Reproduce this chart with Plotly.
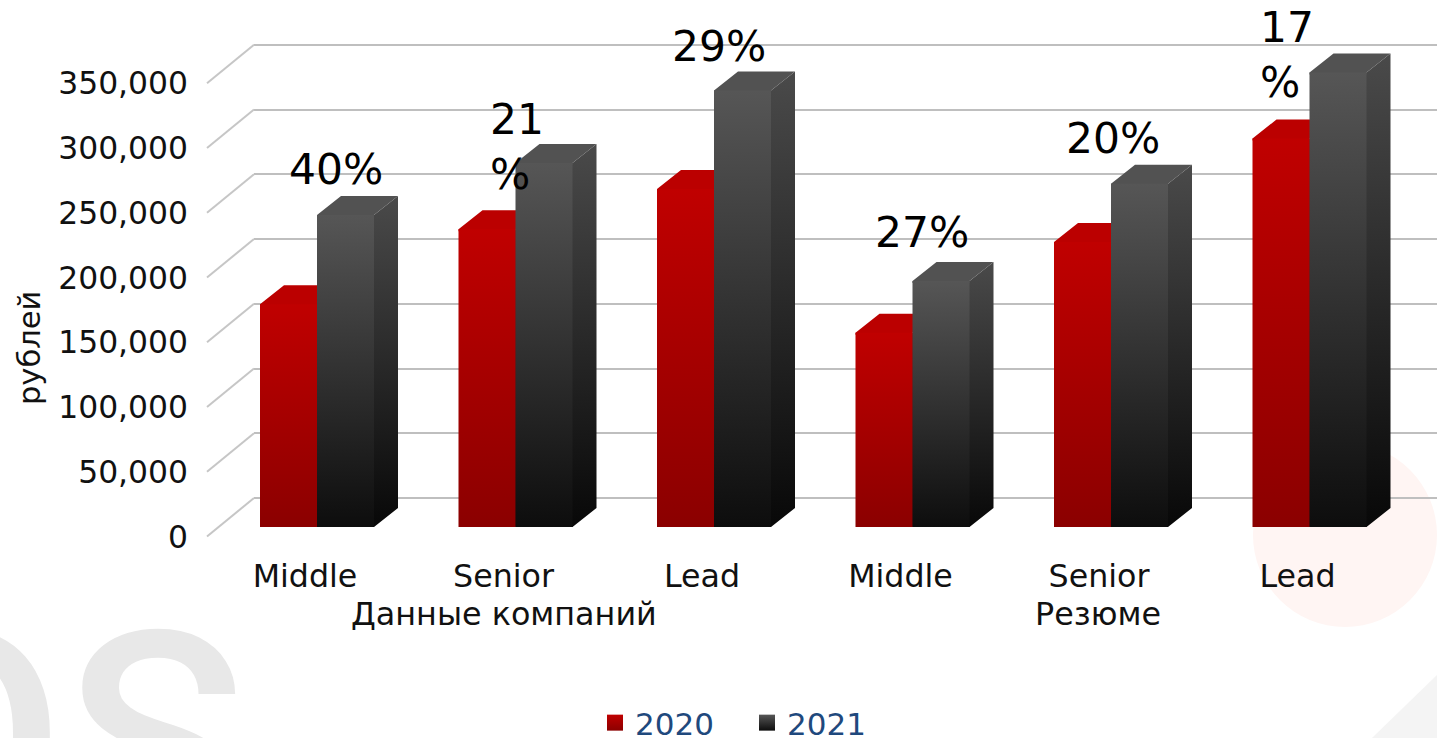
import plotly.graph_objects as go

# values in rubles
categories = ['Middle', 'Senior', 'Lead', 'Middle', 'Senior', 'Lead']
groups = ['Данные компаний', 'Резюме']
values_2020 = [172000, 230000, 261000, 150000, 220000, 300000]
values_2021 = [241000, 281000, 337000, 190000, 265000, 351000]
growth_labels = ['40%', '21<br>%', '29%', '27%', '20%', '17<br>%']
y_ticks = [0, 50000, 100000, 150000, 200000, 250000, 300000, 350000]

# page geometry of the fake 3D box (pixels)
W, H = 1437, 738
AXIS_BOTTOM = 540
PX_PER_RUB = 1.295 / 1000
SLOT = 198.5
FIRST_GROUP_X = 317
BAR_W = 57 / SLOT
BAR_DX = 24 / SLOT
BAR_DY = 19 / PX_PER_RUB
WALL_LEFT, FRONT_LEFT = 254, 207
BASE_PY, FRONT_PY, WALL_PY = 527, 536.5, 498

# label nudges relative to the top of the 2021 bar
label_dx = [-10, -27.5, -24, -19.5, -27, -51.5]
label_dy = [45, 16, 44, 48, 45, 17]


def y_range(zero_py):
    return [(zero_py - AXIS_BOTTOM) / PX_PER_RUB, zero_py / PX_PER_RUB]


def face(xs, ys, low, high):
    return go.Scatter(
        x=xs, y=ys, xaxis='x2', yaxis='y2',
        mode='none', fill='toself',
        fillgradient=dict(type='vertical', colorscale=[[0, low], [1, high]]),
        showlegend=False, hoverinfo='skip',
    )


def add_bar(fig, x0, value, colors):
    x1 = x0 + BAR_W
    dx, dy = BAR_DX, BAR_DY
    # side and top run a little under the front face so no seam shows
    tuck_x, tuck_y = 2 / SLOT, 2 / PX_PER_RUB
    fig.add_trace(face([x1 - tuck_x, x1, x1 + dx, x1 + dx, x1, x1 - tuck_x], [0, 0, dy, value + dy, value, value],
                       colors['side'][0], colors['side'][1]))
    fig.add_trace(face([x0, x0 + dx, x1 + dx, x1, x1, x0], [value, value + dy, value + dy, value, value - tuck_y, value - tuck_y],
                       colors['top'], colors['top']))
    fig.add_trace(face([x0, x1, x1, x0], [0, 0, value, value], colors['front'][0], colors['front'][1]))


RED = dict(front=('#8b0000', '#c00000'), side=('#700000', '#a80000'), top='#bb0000')
GREY = dict(front=('#0d0d0d', '#565656'), side=('#080808', '#4a4a4a'), top='#525252')

fig = go.Figure()

# back wall, only there to carry the gridlines
fig.add_trace(go.Scatter(x=[0, 1], y=[0, 350000], mode='none', showlegend=False, hoverinfo='skip'))

# slanted side wall lines
wall_dx = (WALL_LEFT - FRONT_LEFT) / SLOT
wall_dy = (FRONT_PY - WALL_PY) / PX_PER_RUB
left_x = (FRONT_LEFT - FIRST_GROUP_X) / SLOT
side_x, side_y = [], []
for t in y_ticks:
    side_x += [left_x, left_x + wall_dx, None]
    side_y += [t, t + wall_dy, None]
fig.add_trace(go.Scatter(
    x=side_x, y=side_y, xaxis='x2', yaxis='y3', mode='lines',
    line=dict(color='#c6c6c6', width=2), showlegend=False, hoverinfo='skip',
))

for i in range(len(categories)):
    add_bar(fig, i - BAR_W, values_2020[i], RED)
    add_bar(fig, i, values_2021[i], GREY)

# legend entries
for name, low, high in [('2020', '#8b0000', '#c00000'), ('2021', '#0d0d0d', '#565656')]:
    fig.add_trace(go.Scatter(
        x=[None], y=[None], xaxis='x2', yaxis='y2', mode='markers', name=name,
        marker=dict(symbol='square', size=20, color=high,
                    gradient=dict(type='vertical', color=low)),
    ))

for i, text in enumerate(growth_labels):
    fig.add_annotation(
        x=i + BAR_W / 2, y=values_2021[i], xref='x2', yref='y2',
        text=text, showarrow=False, align='left',
        xshift=label_dx[i], yshift=label_dy[i],
        font=dict(size=42.4, color='#000000'),
    )

# group captions under the categories
for text, px in zip(groups, [504, 1098]):
    fig.add_annotation(
        x=px / W, y=(H - 613) / H, xref='paper', yref='paper', xanchor='center', yanchor='middle',
        text=text, showarrow=False, font=dict(size=31.8, color='#111111'),
    )

fig.add_annotation(
    x=29 / W, y=(H - 348) / H, xref='paper', yref='paper', xanchor='center', yanchor='middle',
    text='рублей', textangle=-90, showarrow=False, font=dict(size=30.5, color='#111111'),
)

# washed out logo behind the chart
fig.add_annotation(
    x=52 / W, y=(H - 625) / H, xref='paper', yref='paper', yanchor='top', xanchor='center',
    text='OS', showarrow=False, yshift=60,
    font=dict(size=300, color='#e8e8e8', family='Roboto', weight=500),
)
fig.add_shape(type='circle', xref='paper', yref='paper', layer='below',
              x0=1253 / W, x1=1437 / W, y0=(H - 627) / H, y1=(H - 443) / H,
              fillcolor='#fff5f3', line_width=0)
fig.add_shape(type='path', xref='paper', yref='paper', layer='below',
              path=f'M {1372 / W} 0 L 1 {(H - 675) / H} L 1 0 Z',
              fillcolor='#f4f4f4', line_width=0)

domain_y = [(H - AXIS_BOTTOM) / H, 1]
fig.update_layout(
    width=W, height=H,
    margin=dict(l=0, r=0, t=0, b=0, autoexpand=False),
    paper_bgcolor='white', plot_bgcolor='rgba(0,0,0,0)',
    font=dict(family='DejaVu Sans', size=31.7, color='#111111'),
    showlegend=True,
    legend=dict(
        orientation='h', x=747 / W, y=(H - 723) / H, xanchor='center', yanchor='middle',
        font=dict(size=31, color='#1f497d'), bgcolor='rgba(0,0,0,0)', itemsizing='trace',
        entrywidth=107,
    ),
    xaxis=dict(domain=[WALL_LEFT / W, 1], range=[0, 1], visible=False, fixedrange=True),
    yaxis=dict(
        domain=domain_y, range=y_range(WALL_PY), tickvals=y_ticks, showticklabels=False,
        showgrid=True, gridcolor='#bfbfbf', gridwidth=2, zeroline=False, ticks='', fixedrange=True,
    ),
    xaxis2=dict(
        domain=[0, 1], anchor='y2',
        range=[-FIRST_GROUP_X / SLOT, (W - FIRST_GROUP_X) / SLOT],
        tickmode='array', tickvals=list(range(len(categories))), ticktext=categories,
        ticklabelshift=-12, ticklabelstandoff=14,
        showgrid=False, zeroline=False, showline=False, ticks='', fixedrange=True,
    ),
    yaxis2=dict(domain=domain_y, anchor='x2', range=y_range(BASE_PY), visible=False, fixedrange=True),
    yaxis3=dict(
        overlaying='y2', anchor='free', position=FRONT_LEFT / W, side='left',
        range=y_range(FRONT_PY), tickvals=y_ticks, tickformat=',d', tickfont=dict(size=31.4),
        ticklabelstandoff=19, showgrid=False, zeroline=False, showline=False, ticks='', fixedrange=True,
    ),
)

fig.write_html("out.html", config=dict(displayModeBar=False), post_script="document.body.style.margin='0';")
